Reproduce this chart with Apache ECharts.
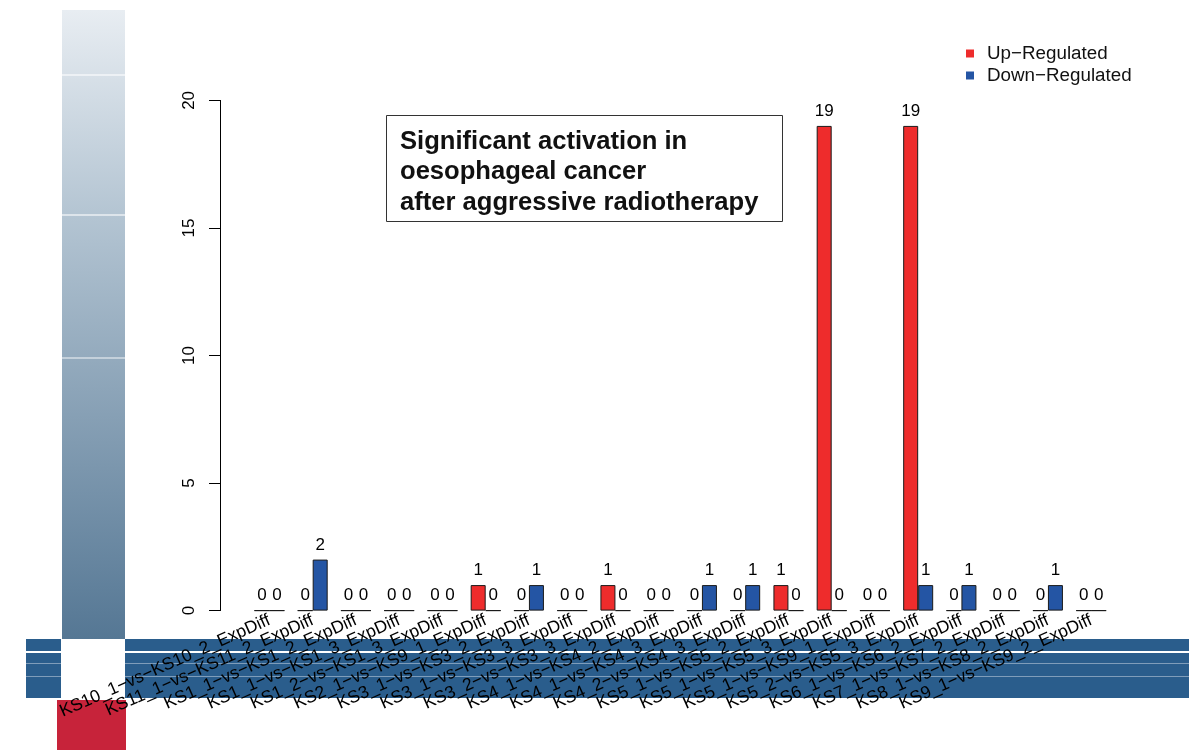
<!DOCTYPE html>
<html>
<head>
<meta charset="utf-8">
<title>Significant activation in oesophageal cancer</title>
<script src="https://cdn.jsdelivr.net/npm/echarts@6/dist/echarts.min.js"></script>
<style>
  html, body { margin: 0; padding: 0; background: #ffffff; }
  #chart { width: 1204px; height: 750px; }
</style>
</head>
<body>
<div id="chart"></div>
<script>
// Comparisons (one group of bars each)
const categories = [
  'KS10_1\u2212vs\u2212KS10_2_ExpDiff',
  'KS11_1\u2212vs\u2212KS11_2_ExpDiff',
  'KS1_1\u2212vs\u2212KS1_2_ExpDiff',
  'KS1_1\u2212vs\u2212KS1_3_ExpDiff',
  'KS1_2\u2212vs\u2212KS1_3_ExpDiff',
  'KS2_1\u2212vs\u2212KS9_1_ExpDiff',
  'KS3_1\u2212vs\u2212KS3_2_ExpDiff',
  'KS3_1\u2212vs\u2212KS3_3_ExpDiff',
  'KS3_2\u2212vs\u2212KS3_3_ExpDiff',
  'KS4_1\u2212vs\u2212KS4_2_ExpDiff',
  'KS4_1\u2212vs\u2212KS4_3_ExpDiff',
  'KS4_2\u2212vs\u2212KS4_3_ExpDiff',
  'KS5_1\u2212vs\u2212KS5_2_ExpDiff',
  'KS5_1\u2212vs\u2212KS5_3_ExpDiff',
  'KS5_1\u2212vs\u2212KS9_1_ExpDiff',
  'KS5_2\u2212vs\u2212KS5_3_ExpDiff',
  'KS6_1\u2212vs\u2212KS6_2_ExpDiff',
  'KS7_1\u2212vs\u2212KS7_2_ExpDiff',
  'KS8_1\u2212vs\u2212KS8_2_ExpDiff',
  'KS9_1\u2212vs\u2212KS9_2_ExpDiff'
];

// Gene counts per comparison
const upRegulated   = [0, 0, 0, 0, 0, 1, 0, 0, 1, 0, 0, 0, 1, 19, 0, 19, 0, 0, 0, 0];
const downRegulated = [0, 2, 0, 0, 0, 0, 1, 0, 0, 0, 1, 1, 0, 0, 0, 1, 1, 0, 1, 0];

const seriesNames = ['Up\u2212Regulated', 'Down\u2212Regulated'];
const seriesColors = ['#EE2C2C', '#2455A4'];

const titleLines = [
  'Significant activation in',
  'oesophageal cancer',
  'after aggressive radiotherapy'
];

const FONT = '"Liberation Sans", Arial, Helvetica, sans-serif';

const chart = echarts.init(document.getElementById('chart'), null, { renderer: 'canvas' });

function barSeries(name, values, color) {
  return {
    name: name,
    type: 'bar',
    data: values,
    barWidth: 15,
    barGap: '0%',
    itemStyle: { color: color, borderColor: '#1a1a1a', borderWidth: 1 },
    label: {
      show: true,
      position: 'top',
      distance: 6,
      color: '#000',
      fontSize: 17,
      fontFamily: FONT
    },
    emphasis: { disabled: true },
    z: 3
  };
}

// Decorative page backdrop: shaded column, banded strip and red block
const backdrop = [
  {
    type: 'rect', z: -10,
    shape: { x: 62, y: 10, width: 63, height: 629 },
    style: {
      fill: new echarts.graphic.LinearGradient(0, 0, 0, 1, [
        { offset: 0, color: '#e8edf2' },
        { offset: 0.33, color: '#b3c4d2' },
        { offset: 1, color: '#557794' }
      ])
    }
  },
  { type: 'rect', z: -9, shape: { x: 62, y: 74, width: 63, height: 2 }, style: { fill: 'rgba(255,255,255,0.55)' } },
  { type: 'rect', z: -9, shape: { x: 62, y: 214, width: 63, height: 2 }, style: { fill: 'rgba(255,255,255,0.55)' } },
  { type: 'rect', z: -9, shape: { x: 62, y: 357, width: 63, height: 2 }, style: { fill: 'rgba(255,255,255,0.45)' } },

  { type: 'rect', z: -10, shape: { x: 26, y: 639, width: 35, height: 59 }, style: { fill: '#2a5d8c' } },
  { type: 'rect', z: -10, shape: { x: 125, y: 639, width: 1064, height: 59 }, style: { fill: '#2a5d8c' } },
  { type: 'rect', z: -9, shape: { x: 26, y: 651, width: 35, height: 2 }, style: { fill: '#ffffff' } },
  { type: 'rect', z: -9, shape: { x: 125, y: 651, width: 1064, height: 2 }, style: { fill: '#ffffff' } },
  { type: 'rect', z: -9, shape: { x: 26, y: 663, width: 35, height: 1 }, style: { fill: 'rgba(255,255,255,0.4)' } },
  { type: 'rect', z: -9, shape: { x: 125, y: 663, width: 1064, height: 1 }, style: { fill: 'rgba(255,255,255,0.4)' } },
  { type: 'rect', z: -9, shape: { x: 26, y: 676, width: 35, height: 1 }, style: { fill: 'rgba(255,255,255,0.4)' } },
  { type: 'rect', z: -9, shape: { x: 125, y: 676, width: 1064, height: 1 }, style: { fill: 'rgba(255,255,255,0.4)' } },

  { type: 'rect', z: -10, shape: { x: 57, y: 700, width: 69, height: 50 }, style: { fill: '#c7233a' } }
];

// Boxed annotation
const annotation = {
  type: 'group',
  z: 5,
  children: [
    {
      type: 'rect',
      shape: { x: 386.5, y: 115.5, width: 396, height: 106 },
      style: { fill: '#ffffff', stroke: '#333333', lineWidth: 1 }
    },
    {
      type: 'text',
      x: 400, y: 126.5,
      style: {
        text: titleLines.join('\n'),
        font: 'bold 25.6px ' + FONT,
        lineHeight: 30.5,
        fill: '#111111',
        verticalAlign: 'top'
      }
    }
  ]
};

const option = {
  backgroundColor: '#ffffff',
  animation: false,
  color: seriesColors,
  textStyle: { fontFamily: FONT },
  legend: {
    orient: 'vertical',
    left: 961,
    top: 39,
    itemWidth: 8,
    itemHeight: 8,
    itemGap: 3,
    icon: 'rect',
    itemStyle: { borderWidth: 0 },
    textStyle: { fontSize: 18.8, color: '#111', fontFamily: FONT, padding: [0, 0, 0, 8] },
    data: seriesNames,
    selectedMode: false
  },
  grid: {
    left: 247.8,
    right: 91.2,
    top: 100.4,
    bottom: 139.4,
    containLabel: false
  },
  xAxis: {
    type: 'category',
    data: categories,
    axisLine: { show: false },
    axisTick: { show: false },
    splitLine: { show: false },
    axisLabel: {
      interval: 0,
      rotate: 24,
      margin: 9,
      fontSize: 17.5,
      color: '#000',
      fontFamily: FONT
    }
  },
  yAxis: {
    type: 'value',
    min: 0,
    max: 20,
    interval: 5,
    offset: 27.8,
    axisLine: { show: true, lineStyle: { color: '#000', width: 1 } },
    axisTick: { show: true, length: 11, lineStyle: { color: '#000', width: 1 } },
    splitLine: { show: false },
    axisLabel: {
      rotate: 90,
      margin: 22,
      fontSize: 17,
      color: '#000',
      fontFamily: FONT
    }
  },
  series: [
    barSeries(seriesNames[0], upRegulated, seriesColors[0]),
    barSeries(seriesNames[1], downRegulated, seriesColors[1])
  ],
  graphic: { elements: backdrop.concat([annotation]) }
};

chart.setOption(option);
</script>
</body>
</html>
